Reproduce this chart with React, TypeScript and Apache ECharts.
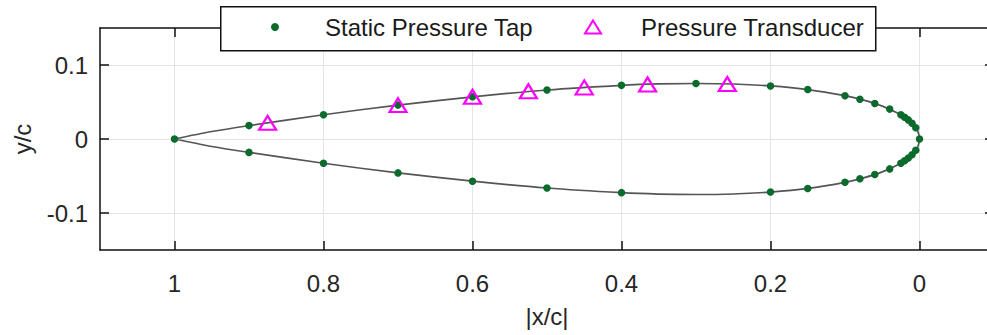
import React, { useEffect, useRef } from "react";
import * as echarts from "echarts";

// Airfoil outline (|x/c|, y/c), upper surface from trailing edge to leading edge
const outlineX = [1, 0.95, 0.9, 0.8, 0.7, 0.6, 0.5, 0.4, 0.35, 0.3, 0.25, 0.2, 0.15, 0.1, 0.075, 0.05, 0.025, 0.0125, 0.005, 0.002, 0];
const outlineY = [0, 0.0101, 0.0181, 0.0328, 0.0458, 0.0570, 0.0662, 0.0725, 0.0744, 0.0750, 0.0743, 0.0717, 0.0668, 0.0585, 0.0525, 0.0444, 0.0327, 0.0237, 0.0153, 0.0098, 0];

// Static pressure taps
const tapUpperX = [1, 0.9, 0.8, 0.7, 0.6, 0.5, 0.4, 0.3, 0.2, 0.15, 0.1, 0.08, 0.06, 0.04, 0.025, 0.02, 0.015, 0.01, 0.005, 0];
const tapUpperY = [0, 0.0181, 0.0328, 0.0458, 0.0570, 0.0662, 0.0725, 0.0750, 0.0717, 0.0668, 0.0585, 0.0538, 0.0480, 0.0404, 0.0327, 0.0295, 0.0258, 0.0213, 0.0153, 0];
const tapLowerX = [0.9, 0.8, 0.7, 0.6, 0.5, 0.4, 0.2, 0.15, 0.1, 0.08, 0.06, 0.04, 0.025, 0.02, 0.015, 0.01, 0.005];
const tapLowerY = [-0.0181, -0.0328, -0.0458, -0.0570, -0.0662, -0.0725, -0.0717, -0.0668, -0.0585, -0.0538, -0.0480, -0.0404, -0.0327, -0.0295, -0.0258, -0.0213, -0.0153];

// Pressure transducers
const transducerX = [0.875, 0.7, 0.6, 0.525, 0.45, 0.365, 0.258];
const transducerY = [0.0218, 0.0458, 0.0570, 0.0645, 0.0697, 0.0737, 0.0743];

const xTicks = [0, 0.2, 0.4, 0.6, 0.8, 1];
const yTicks = [-0.1, 0, 0.1];

const FONT = "Liberation Sans, Arial, Helvetica, sans-serif";
const GREEN = "#0b6b2c";
const MAGENTA = "#ff00ff";

export default function App() {
  const ref = useRef<HTMLDivElement>(null);
  useEffect(() => {
    if (!ref.current) return;
    const chart = echarts.init(ref.current, undefined, { renderer: "svg" });

    const outline: number[][] = [];
    outlineX.forEach((x, i) => outline.push([x, outlineY[i]]));
    for (let i = outlineX.length - 2; i >= 0; i--) outline.push([outlineX[i], -outlineY[i]]);

    const taps: number[][] = [];
    tapUpperX.forEach((x, i) => taps.push([x, tapUpperY[i]]));
    tapLowerX.forEach((x, i) => taps.push([x, tapLowerY[i]]));

    const transducers = transducerX.map((x, i) => [x, transducerY[i]]);

    const axisLine = { show: true, onZero: false, lineStyle: { color: "#111", width: 1.5 } };
    const tick = { show: true, inside: true, length: 9, lineStyle: { color: "#111", width: 1.5 } };
    const labelColor = "#262626";

    chart.setOption({
      animation: false,
      backgroundColor: "#fff",
      textStyle: { fontFamily: FONT },
      grid: { left: 100, top: 28, width: 894, height: 222, containLabel: false },
      graphic: [
        {
          type: "rect",
          left: 220,
          top: 6,
          shape: { width: 655, height: 44 },
          style: { fill: "#fff", stroke: "#111", lineWidth: 1.5 },
          z: 100,
        },
      ],
      legend: [
        {
          data: [{ name: "Static Pressure Tap", icon: "circle" }],
          left: 271,
          top: 15,
          padding: 0,
          itemWidth: 8,
          itemHeight: 8,
          z: 110,
          textStyle: { fontSize: 24, color: "#1a1a1a", fontFamily: FONT, padding: [0, 0, 0, 41] },
        },
        {
          data: [
            {
              name: "Pressure Transducer",
              icon: "triangle",
              itemStyle: { color: "#fff", borderColor: MAGENTA, borderWidth: 2 },
            },
          ],
          left: 584,
          top: 15,
          padding: 0,
          itemWidth: 16,
          itemHeight: 13,
          z: 110,
          textStyle: { fontSize: 24, color: "#1a1a1a", fontFamily: FONT, padding: [0, 0, 0, 35] },
        },
      ],
      xAxis: [
        {
          type: "value",
          inverse: true,
          min: -0.1,
          max: 1.1,
          position: "bottom",
          name: "|x/c|",
          nameLocation: "middle",
          nameGap: 54,
          nameTextStyle: { fontSize: 24, color: labelColor, fontFamily: FONT },
          axisLine,
          axisTick: { ...tick, customValues: xTicks },
          axisLabel: { customValues: xTicks, fontSize: 24, color: labelColor, margin: 21, fontFamily: FONT },
          splitLine: { show: true, lineStyle: { color: "#e4e4e4", width: 1 } },
        },
        {
          type: "value",
          inverse: true,
          min: -0.1,
          max: 1.1,
          position: "top",
          axisLine,
          axisTick: { ...tick, customValues: xTicks },
          axisLabel: { show: false },
          splitLine: { show: false },
        },
      ],
      yAxis: [
        {
          type: "value",
          min: -0.15,
          max: 0.15,
          position: "left",
          name: "y/c",
          nameLocation: "middle",
          nameGap: 66,
          nameTextStyle: { fontSize: 24, color: labelColor, fontFamily: FONT },
          axisLine,
          axisTick: { ...tick, customValues: yTicks },
          axisLabel: { customValues: yTicks, fontSize: 24, color: labelColor, margin: 12, fontFamily: FONT },
          splitLine: { show: true, lineStyle: { color: "#e4e4e4", width: 1 } },
        },
        {
          type: "value",
          min: -0.15,
          max: 0.15,
          position: "right",
          axisLine,
          axisTick: { ...tick, customValues: yTicks },
          axisLabel: { show: false },
          splitLine: { show: false },
        },
      ],
      series: [
        {
          name: "Outline",
          type: "line",
          data: outline,
          showSymbol: false,
          symbol: "none",
          smooth: 0.3,
          lineStyle: { color: "#555", width: 1.7 },
          z: 2,
        },
        {
          name: "Static Pressure Tap",
          type: "scatter",
          data: taps,
          symbol: "circle",
          symbolSize: 7.5,
          itemStyle: { color: GREEN, opacity: 1 },
          z: 3,
        },
        {
          name: "Pressure Transducer",
          type: "scatter",
          data: transducers,
          symbol: "triangle",
          symbolSize: [17, 14],
          itemStyle: { color: "rgba(255,255,255,0)", borderColor: MAGENTA, borderWidth: 2.2, opacity: 1 },
          z: 4,
        },
      ],
    });
    return () => chart.dispose();
  }, []);
  return (
    <div
      ref={ref}
      style={{ position: "fixed", left: 0, top: 0, width: 1000, height: 335 }}
    />
  );
}
